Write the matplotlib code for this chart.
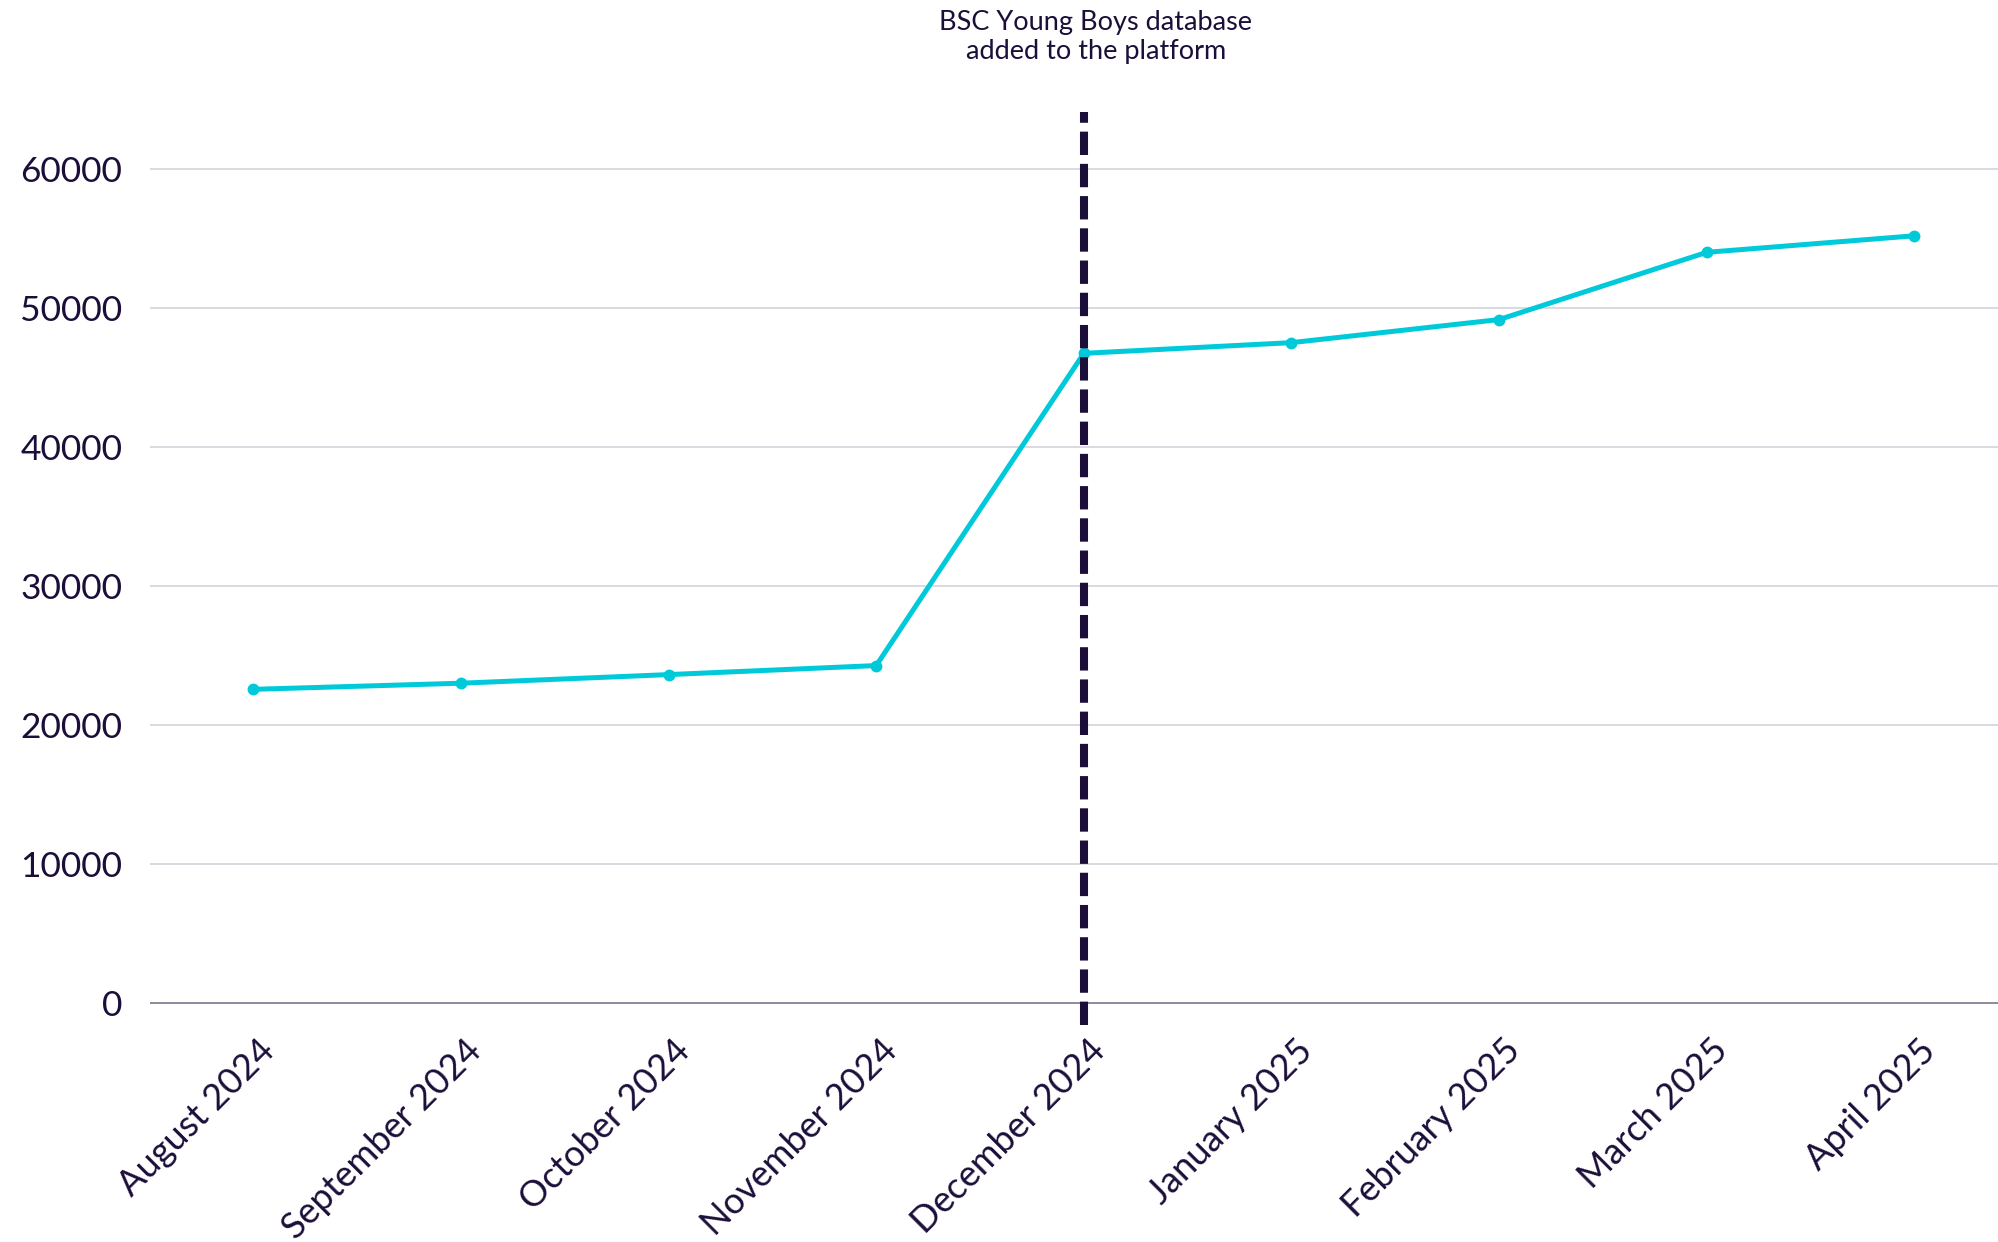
import matplotlib
matplotlib.use("Agg")
import matplotlib.pyplot as plt
from matplotlib.transforms import ScaledTranslation

# Monthly totals
months = ["August 2024", "September 2024", "October 2024", "November 2024",
          "December 2024", "January 2025", "February 2025", "March 2025",
          "April 2025"]
totals = [22540, 22980, 23600, 24250, 46720, 47490, 49150, 53990, 55180]
y_ticks = [0, 10000, 20000, 30000, 40000, 50000, 60000]

event_month = "December 2024"
event_label = "BSC Young Boys database\nadded to the platform"

NAVY = "#1b0f3a"
CYAN = "#00cad9"
GRID = "#d9d7de"

plt.rcParams["font.family"] = ["Lato", "DejaVu Sans"]

fig = plt.figure(figsize=(19.99, 12.42), dpi=100)
ax = fig.add_axes([0.07504, 0.1747, 0.92496, 0.7351])

x = list(range(len(months)))
ax.plot(x, totals, color=CYAN, lw=3.6, marker="o", markersize=7.5,
        solid_capstyle="round", zorder=3)

ev_x = months.index(event_month)
ax.axvline(ev_x, color=NAVY, lw=5.8, linestyle=(0, (2.9, 1.1)),
           dash_capstyle="butt", zorder=4)

ax.set_xlim(-0.4976, 8.408)
ax.set_ylim(-1619, 64087)

for v in y_ticks[1:]:
    ax.axhline(v, color=GRID, lw=1.3, zorder=1)
ax.axhline(0, color="#8e8a9c", lw=1.4, zorder=1)

ax.set_yticks(y_ticks)
ax.set_yticklabels([str(v) for v in y_ticks])
ax.set_xticks(x)
ax.set_xticklabels(months, rotation=45, ha="right", rotation_mode="anchor")

ax.tick_params(axis="y", length=0, pad=20, labelsize=25.5, labelcolor=NAVY)
ax.tick_params(axis="x", length=0, pad=6, labelsize=26, labelcolor=NAVY)
for lbl in ax.get_xticklabels():
    lbl.set_transform(lbl.get_transform() +
                      ScaledTranslation(0.04, 0.0, fig.dpi_scale_trans))

for s in ax.spines.values():
    s.set_visible(False)

# Event annotation, centred over the marker line near the top edge
ev_fig_x = fig.transFigure.inverted().transform(
    ax.transData.transform((ev_x, 0)))[0]
fig.text(ev_fig_x + 0.006, 1 - 10 / 1242, event_label, ha="center", va="top",
         fontsize=19.5, color=NAVY, linespacing=1.22)

fig.savefig("out.png", dpi=100, facecolor="white")
